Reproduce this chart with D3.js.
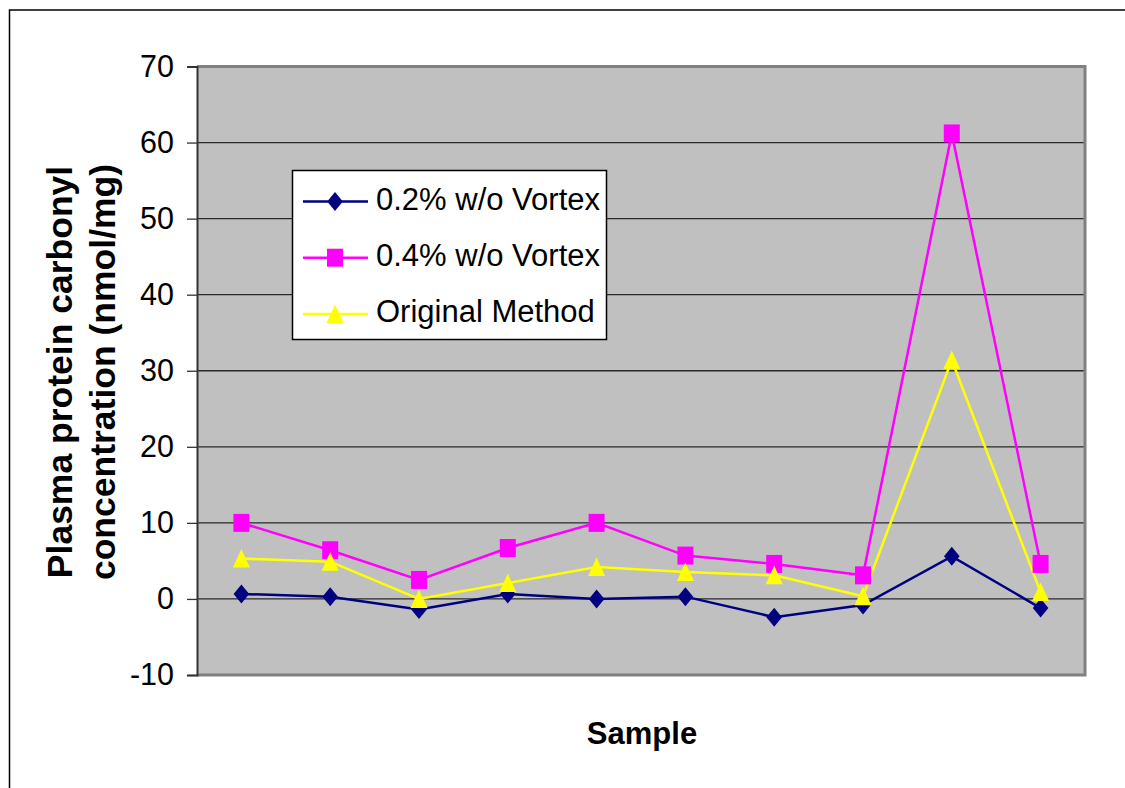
<!DOCTYPE html>
<html><head><meta charset="utf-8">
<script src="https://cdn.jsdelivr.net/npm/d3@7"></script>
<style>body{margin:0;background:#fff}svg{display:block}</style>
</head><body>
<svg id="c" width="1125" height="788"></svg>
<script>
const samples = [1,2,3,4,5,6,7,8,9,10];
const s02 = [0.65, 0.3, -1.4, 0.65, 0.0, 0.3, -2.4, -0.8, 5.6, -1.2];
const s04 = [10.0, 6.4, 2.5, 6.7, 10.0, 5.7, 4.6, 3.1, 61.2, 4.6];
const orig = [5.3, 4.9, 0.0, 2.1, 4.2, 3.55, 3.1, 0.35, 31.4, 0.9];
const yTicks = [-10,0,10,20,30,40,50,60,70];
const seriesNames = ["0.2% w/o Vortex","0.4% w/o Vortex","Original Method"];
const seriesColors = ["#000080","#FF00FF","#FFFF00"];
const seriesData = [s02, s04, orig];

// marker shapes (slightly taller than wide, as in the reference)
function markerPath(k){
  const p = d3.path();
  if(k===0){ p.moveTo(0,-9.5); p.lineTo(7.8,0); p.lineTo(0,9.5); p.lineTo(-7.8,0); p.closePath(); }
  else if(k===1){ p.rect(-8,-9,16,18); }
  else { p.moveTo(0,-9.5); p.lineTo(8.5,9); p.lineTo(-8.5,9); p.closePath(); }
  return p.toString();
}

const svg = d3.select("#c");
const L=197, R=1085, T=66.5, B=675;
const tf = "Arial, 'Liberation Sans', sans-serif";
// outer border
svg.append("rect").attr("x",9.5).attr("y",10).attr("width",1200).attr("height",900)
  .attr("fill","none").attr("stroke","#000").attr("stroke-width",1.5);

const x = d3.scaleBand().domain(samples).range([L,R]);
const y = d3.scaleLinear().domain([-10,70]).range([B,T]);

svg.append("rect").attr("x",L).attr("y",T).attr("width",R-L).attr("height",B-T).attr("fill","#C0C0C0");
// gridlines
svg.append("g").selectAll("line").data(yTicks.filter(v=>v>-10&&v<70)).join("line")
  .attr("x1",L).attr("x2",R).attr("y1",d=>y(d)).attr("y2",d=>y(d))
  .attr("stroke","#2a2a2a").attr("stroke-width",1.3);
// plot border right/top/bottom
svg.append("path").attr("d",`M${L},${T}H${R}V${B}H${L}`).attr("fill","none")
  .attr("stroke","#808080").attr("stroke-width",3);

// y axis
const ya = svg.append("g").attr("transform",`translate(${L},0)`)
  .call(d3.axisLeft(y).tickValues(yTicks).tickSize(10).tickPadding(13).tickFormat(d=>String(d)));
ya.select(".domain").attr("stroke","#333").attr("stroke-width",2);
ya.selectAll(".tick line").attr("stroke","#333").attr("stroke-width",1.3);
ya.selectAll("text").attr("font-family",tf).attr("font-size",30.5).attr("fill","#000");

// lines and markers
const cx = i => x(samples[i]) + x.bandwidth()/2;
const line = d3.line().x((d,i)=>cx(i)).y(d=>y(d));
seriesData.forEach((data,k)=>{
  svg.append("path").datum(data).attr("d",line).attr("fill","none")
    .attr("stroke",seriesColors[k]).attr("stroke-width",2.5);
});
seriesData.forEach((data,k)=>{
  svg.append("g").selectAll("path").data(data).join("path")
    .attr("transform",(d,i)=>`translate(${cx(i)},${y(d)})`)
    .attr("d",markerPath(k)).attr("fill",seriesColors[k]);
});

// axis titles
const yt = svg.append("text").attr("transform","translate(0,372) rotate(-90)")
  .attr("text-anchor","middle").attr("font-family",tf).attr("font-weight","bold").attr("font-size",35.5);
yt.append("tspan").attr("x",0).attr("y",72).text("Plasma protein carbonyl");
yt.append("tspan").attr("x",0).attr("y",115).text("concentration (nmol/mg)");
svg.append("text").attr("x",642).attr("y",744).attr("text-anchor","middle")
  .attr("font-family",tf).attr("font-weight","bold").attr("font-size",31).text("Sample");

// legend
const lg = svg.append("g");
lg.append("rect").attr("x",292.5).attr("y",170.5).attr("width",314).attr("height",169)
  .attr("fill","#fff").attr("stroke","#000").attr("stroke-width",1.5);
seriesNames.forEach((n,k)=>{
  const yy = 201.5 + k*56.2;
  lg.append("line").attr("x1",303).attr("x2",368).attr("y1",yy).attr("y2",yy)
    .attr("stroke",seriesColors[k]).attr("stroke-width",2.5);
  lg.append("path").attr("transform",`translate(335,${yy})`)
    .attr("d",markerPath(k)).attr("fill",seriesColors[k]);
  lg.append("text").attr("x",376).attr("y",yy+8).attr("font-family",tf).attr("font-size",31).text(n);
});
</script>
</body></html>
